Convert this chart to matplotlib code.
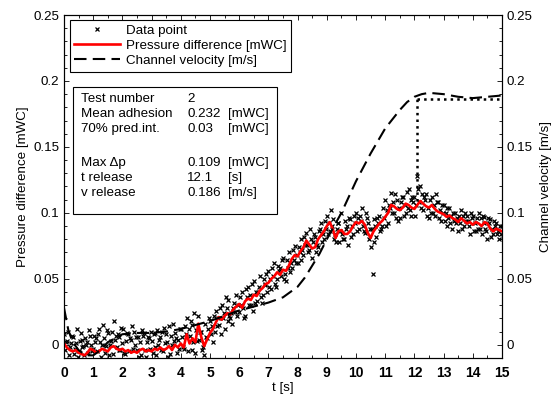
import numpy as np
import matplotlib
matplotlib.use('Agg')
import matplotlib.pyplot as plt
from matplotlib.lines import Line2D
from matplotlib.ticker import MultipleLocator, FormatStrFormatter

plt.rcParams['font.family'] = ['Liberation Sans', 'DejaVu Sans']
plt.rcParams['font.size'] = 9.6

# smoothed pressure difference, 0.1 s steps, in 1e-3 mWC
t_red = np.arange(0, 15.01, 0.1)
p_red = [1, -2, -4, -5, -4, -6, -7, -8, -6, -3,
         -4, -6, -5, -3, -4, -5, -2, -1, -3, -4,
         -3, -5, -4, -6, -5, -6, -4, -3, -5, -4,
         -5, -3, -4, -2, -4, -3, -1, -4, 0, -2,
         1, -2, 8, 1, 5, 2, 16, 6, -1, 4,
         9, 12, 17, 21, 19, 22, 24, 23, 27, 29,
         31, 28, 33, 35, 34, 38, 37, 41, 43, 46,
         47, 50, 52, 55, 53, 57, 56, 60, 65, 68,
         67, 71, 74, 79, 76, 73, 74, 80, 83, 86,
         90, 93, 88, 81, 86, 87, 84, 84, 86, 90,
         93, 92, 94, 91, 85, 81, 86, 89, 92, 94,
         97, 100, 106, 105, 103, 102, 104, 107, 106, 104,
         103, 106, 109, 107, 105, 104, 106, 103, 101, 100,
         99, 97, 98, 96, 95, 93, 96, 94, 92, 93,
         91, 93, 92, 90, 93, 92, 88, 86, 88, 87,
         86]

# raw data points, three readings per 0.1 s, in 1e-3 mWC
pts_a = [8, 3, -2, 6, 1, -5, 4, -8, 2, 7,
         -3, 5, 12, 0, -6, 9, 3, 18, -2, 6,
         1, -7, 8, 4, 10, -4, 2, 7, -9, 5,
         3, -2, 11, 6, -5, 8, 14, 0, 9, 4,
         12, -3, 20, 7, 15, -6, 22, 10, -8, 5,
         18, 2, 26, 15, 30, 12, 34, 20, 28, 38,
         25, 40, 22, 44, 30, 48, 33, 52, 38, 45,
         56, 42, 62, 50, 58, 66, 48, 70, 58, 75,
         62, 80, 68, 85, 72, 66, 82, 74, 92, 80,
         98, 86, 95, 78, 92, 100, 80, 90, 95, 84,
         100, 88, 104, 85, 92, 74, 95, 82, 98, 90,
         110, 92, 115, 100, 110, 96, 112, 100, 118, 98,
         112, 128, 120, 102, 114, 96, 112, 98, 108, 94,
         106, 90, 104, 88, 100, 86, 102, 90, 98, 84,
         98, 86, 100, 84, 97, 80, 95, 84, 92, 80,
         90]
pts_b = [-4, 10, 1, -7, 12, 3, -2, 5, -6, 0,
         7, -5, 2, 15, -1, -8, 10, 4, 8, -4,
         12, 3, -5, 14, 0, 6, -8, 9, 2, -3,
         -6, 9, 0, -4, 13, 2, -7, 16, 5, -3,
         6, 14, -5, 18, 2, 11, 4, -4, 16, 12,
         8, 22, 14, 28, 20, 36, 18, 24, 32, 22,
         36, 28, 42, 30, 46, 32, 40, 36, 50, 54,
         44, 58, 46, 60, 52, 50, 64, 55, 72, 62,
         74, 64, 82, 76, 88, 78, 70, 86, 78, 94,
         84, 102, 80, 88, 78, 84, 94, 76, 82, 98,
         86, 98, 90, 100, 80, 88, 78, 96, 86, 104,
         90, 106, 100, 114, 94, 108, 98, 116, 102, 112,
         98, 118, 104, 112, 98, 110, 100, 114, 96, 106,
         94, 104, 92, 100, 92, 98, 88, 100, 94, 100,
         86, 96, 88, 98, 88, 96, 82, 94, 84, 90,
         82]
pts_c = [2, -8, 7, -3, -9, 9, -1, 0, 11, -5,
         2, 8, -9, 5, 11, 0, -7, 7, -4, 13,
         -6, 9, 5, -3, 6, -9, 11, -4, 6, 10,
         8, -8, 4, 10, 1, -9, 7, 3, -6, 12,
         -2, 8, 12, -4, 24, 3, 10, -2, 6, 20,
         14, 10, 20, 8, 24, 28, 22, 16, 25, 30,
         30, 20, 36, 38, 26, 40, 44, 32, 46, 40,
         50, 52, 44, 56, 64, 54, 58, 62, 64, 68,
         70, 72, 76, 70, 80, 84, 76, 88, 84, 88,
         92, 90, 84, 92, 86, 80, 88, 96, 90, 92,
         96, 94, 86, 96, 88, 54, 90, 92, 88, 96,
         102, 104, 108, 96, 104, 112, 106, 104, 110, 108,
         106, 108, 114, 110, 104, 100, 106, 108, 102, 100,
         100, 96, 98, 94, 96, 92, 98, 94, 90, 96,
         92, 88, 96, 92, 86, 92, 88, 90, 86, 84,
         88]

# channel velocity [m/s]
t_vel = [0, 0.15, 0.3, 0.5, 0.75, 1.0, 1.25, 1.5, 2, 2.5, 3, 3.5, 4, 4.5, 5,
         5.5, 6, 6.5, 7, 7.5, 8, 8.25, 8.5, 8.75, 9, 9.25, 9.5, 9.75, 10,
         10.5, 11, 11.5, 11.75, 12, 12.25, 12.5, 13, 13.5, 14, 14.5, 15]
vel = [0.028, 0.011, 0.002, -0.004, -0.008, -0.008, -0.004, 0.002, 0.008,
       0.009, 0.009, 0.010, 0.012, 0.015, 0.018, 0.022, 0.026, 0.029, 0.032,
       0.036, 0.044, 0.051, 0.060, 0.069, 0.080, 0.090, 0.100, 0.112, 0.124,
       0.145, 0.164, 0.178, 0.184, 0.188, 0.190, 0.191, 0.190, 0.188, 0.187,
       0.188, 0.189]

t_release = 12.1
v_release = 0.186
max_dp = 0.109

info_labels = ['Test number', 'Mean adhesion', '70% pred.int.', '',
               'Max \u0394p', 't release', 'v release']
info_values = ['2', '0.232', '0.03', '', '0.109', '12.1', '0.186']
info_units = ['', '[mWC]', '[mWC]', '', '[mWC]', '[s]', '[m/s]']

fig = plt.figure(figsize=(5.53, 3.94), dpi=100)
ax = fig.add_axes([64/553, 1-358/394, 438/553, 343/394])
ax2 = ax.twinx()

mk = dict(ls='none', marker='x', color='k', ms=3.2, mew=0.9, zorder=2)
ax.plot(t_red, np.array(pts_a)/1000, **mk)
ax.plot(t_red + 0.033, np.array(pts_b)/1000, **mk)
ax.plot(t_red + 0.067, np.array(pts_c)/1000, **mk)
ax.plot(t_red, np.array(p_red)/1000, color='red', lw=1.9, zorder=3)

ax2.plot(t_vel, vel, 'k--', lw=1.5, dashes=(6, 3))
ax2.plot([t_release, t_release], [max_dp, v_release], 'k:', lw=1.8)
ax2.plot([t_release, 15], [v_release, v_release], 'k:', lw=1.8)

for a in (ax, ax2):
    a.set_xlim(0, 15)
    a.set_ylim(-0.01, 0.25)
    a.yaxis.set_major_locator(MultipleLocator(0.05))
    a.yaxis.set_minor_locator(MultipleLocator(0.01))
    a.yaxis.set_major_formatter(FormatStrFormatter('%g'))
    a.tick_params(which='both', direction='in', width=0.6)
    a.tick_params(which='major', length=3.5)
    a.tick_params(which='minor', length=2)
ax.xaxis.set_major_locator(MultipleLocator(1))
ax.xaxis.set_minor_locator(MultipleLocator(0.5))
ax.tick_params(axis='x', which='both', top=True)
ax.tick_params(axis='x', labelsize=10, pad=6)
for lbl in ax.get_xticklabels():
    lbl.set_fontweight('bold')
for a in (ax, ax2):
    for s in a.spines.values():
        s.set_linewidth(0.8)

ax.set_xlabel('t [s]', labelpad=1)
ax.set_ylabel('Pressure difference [mWC]', labelpad=3)
ax2.set_ylabel('Channel velocity [m/s]', labelpad=5)

handles = [Line2D([], [], color='k', marker='x', ls='none', ms=3.0, mew=0.9),
           Line2D([], [], color='red', lw=1.9),
           Line2D([], [], color='k', ls='--', lw=1.5, dashes=(6, 3))]
leg = ax2.legend(handles, ['Data point', 'Pressure difference [mWC]',
                           'Channel velocity [m/s]'],
                 loc='upper left', bbox_to_anchor=(0.013, 0.985),
                 fancybox=False, edgecolor='k', framealpha=1,
                 handlelength=3.4, handletextpad=0.45, borderpad=0.35,
                 labelspacing=0.2, borderaxespad=0)
leg.get_frame().set_linewidth(0.8)

ax2.add_patch(plt.Rectangle((0.31, 0.099), 6.99, 0.0965, fill=True,
                            facecolor='white', edgecolor='k', lw=0.8,
                            zorder=5))
rows_y = [99, 114, 128.7, 0, 163, 177.7, 192.7]
for lab, val, unit, py in zip(info_labels, info_values, info_units, rows_y):
    if not lab:
        continue
    fig.text(81/553, 1-py/394, lab, va='center', zorder=6)
    fig.text(187/553, 1-py/394, val, va='center', zorder=6)
    fig.text(228/553, 1-py/394, unit, va='center', zorder=6)

fig.savefig('out.png', dpi=100)
